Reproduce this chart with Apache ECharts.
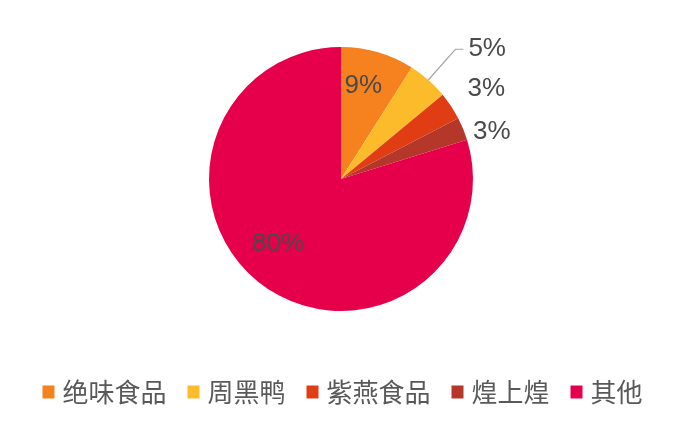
<!DOCTYPE html>
<html>
<head>
<meta charset="utf-8">
<script src="https://cdn.jsdelivr.net/npm/echarts@6/dist/echarts.min.js"></script>
<style>
html,body{margin:0;padding:0;background:#fff;}
#chart{width:685px;height:422px;}
</style>
</head>
<body>
<div id="chart"></div>
<script>
const categories = ['绝味食品', '周黑鸭', '紫燕食品', '煌上煌', '其他'];
const shares = [9.0, 5.0, 3.4, 2.8, 79.8];
const colors = ['#F5821F', '#FBBB2A', '#E03D15', '#B5372A', '#E6004C'];
const insideLabelIdx = [0, 4];

const chart = echarts.init(document.getElementById('chart'));
const fontFam = '"Liberation Sans", Arial, sans-serif';

const mainData = categories.map((name, i) => ({
  name: name,
  value: shares[i],
  itemStyle: { color: colors[i] },
  label: { show: insideLabelIdx.indexOf(i) < 0 },
  labelLine: { show: i === 1, length: i === 1 ? 41 : (i === 2 ? 10 : 1), length2: i === 1 ? 8 : 5 }
}));

const labelData = categories.map((name, i) => ({
  name: name,
  value: shares[i],
  label: { show: insideLabelIdx.indexOf(i) >= 0 }
}));

chart.setOption({
  animation: false,
  legend: {
    data: categories,
    bottom: 12,
    left: 'center',
    itemWidth: 12,
    itemHeight: 13,
    itemGap: 21,
    icon: 'rect',
    textStyle: { fontSize: 26, color: '#595959', fontFamily: '"Noto Sans CJK SC", sans-serif', padding: [0, 0, 0, 3] }
  },
  series: [
    {
      type: 'pie',
      center: [341, 179],
      radius: [0, 132],
      startAngle: 90,
      clockwise: true,
      avoidLabelOverlap: false,
      data: mainData,
      label: {
        position: 'outside',
        formatter: p => Math.round(p.value) + '%',
        fontSize: 26,
        color: '#4a4a4a',
        fontFamily: fontFam
      },
      labelLine: { lineStyle: { color: '#A6A6A6', width: 1.2 }, smooth: false },
      labelLayout: function (params) {
        if (params.dataIndex === 2) { return { dy: -12, dx: -2 }; }
        if (params.dataIndex === 3) { return { dy: 3, dx: -1 }; }
        return {};
      },
      emphasis: { disabled: true }
    },
    {
      type: 'pie',
      center: [341, 179],
      radius: [44, 132],
      startAngle: 90,
      clockwise: true,
      silent: true,
      legendHoverLink: false,
      data: labelData,
      itemStyle: { color: 'rgba(0,0,0,0)' },
      label: {
        position: 'inside',
        formatter: p => Math.round(p.value) + '%',
        fontSize: 26,
        color: '#4a4a4a',
        fontFamily: fontFam
      },
      labelLayout: function (params) {
        if (params.dataIndex === 0) { return { dx: -3, dy: -6 }; }
        if (params.dataIndex === 4) { return { dx: -9, dy: -8 }; }
        return {};
      },
      labelLine: { show: false },
      emphasis: { disabled: true }
    }
  ]
});
</script>
</body>
</html>
